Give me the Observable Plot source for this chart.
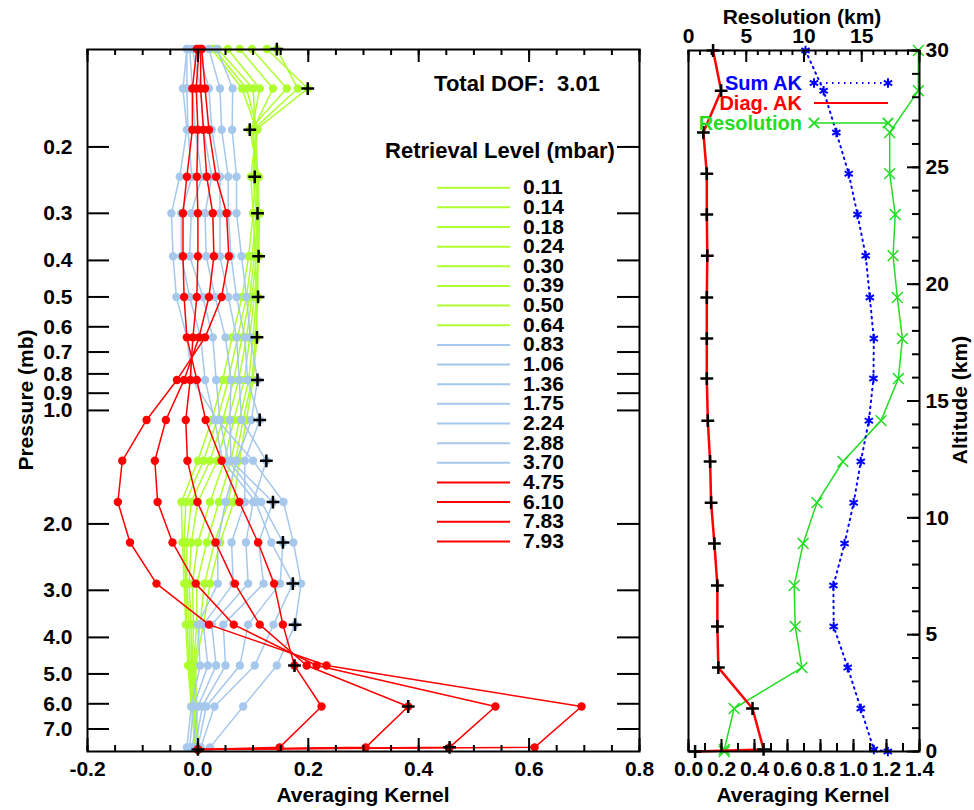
<!DOCTYPE html>
<html><head><meta charset="utf-8">
<script src="https://cdn.jsdelivr.net/npm/d3@7"></script>
<script src="https://cdn.jsdelivr.net/npm/@observablehq/plot@0.6"></script>
<style>
body{margin:0;background:#fff;}
#wrap{position:relative;width:974px;height:810px;overflow:hidden;font-family:"Liberation Sans",Arial,sans-serif;font-weight:bold;}
#wrap svg{position:absolute;top:0;}
</style></head><body><div id="wrap"></div>
<script>
// ---------------- DATA ----------------
const levels = [0.11, 0.14, 0.18, 0.24, 0.30, 0.39, 0.50, 0.64, 0.83, 1.06, 1.36, 1.75, 2.24, 2.88, 3.70, 4.75, 6.10, 7.83, 7.93];
const totalDOF = 3.01;

// averaging kernels (one array per retrieval level, values at each level above)
const k_0_11 = [0.143, 0.181, 0.100, 0.104, 0.100, 0.092, 0.080, 0.062, 0.045, 0.025, 0.000, -0.030, -0.028, -0.025, -0.022, -0.018, -0.012, -0.005, 0.000];
const k_0_14 = [0.125, 0.199, 0.105, 0.108, 0.106, 0.098, 0.088, 0.072, 0.055, 0.035, 0.010, -0.022, -0.025, -0.022, -0.020, -0.016, -0.010, -0.004, 0.000];
const k_0_18 = [0.098, 0.161, 0.094, 0.110, 0.110, 0.102, 0.094, 0.080, 0.065, 0.045, 0.022, -0.012, -0.020, -0.020, -0.016, -0.014, -0.008, -0.003, 0.000];
const k_0_24 = [0.076, 0.136, 0.100, 0.103, 0.112, 0.106, 0.098, 0.088, 0.074, 0.055, 0.035, 0.000, -0.012, -0.016, -0.012, -0.012, -0.006, -0.002, 0.000];
const k_0_30 = [0.054, 0.112, 0.098, 0.110, 0.108, 0.110, 0.102, 0.094, 0.084, 0.065, 0.048, 0.022, 0.000, -0.010, -0.008, -0.010, -0.005, -0.001, 0.000];
const k_0_39 = [0.036, 0.100, 0.104, 0.106, 0.112, 0.110, 0.106, 0.100, 0.092, 0.075, 0.060, 0.038, 0.016, -0.002, -0.002, -0.008, -0.004, 0.000, 0.000];
const k_0_50 = [0.030, 0.088, 0.108, 0.100, 0.106, 0.108, 0.109, 0.104, 0.098, 0.082, 0.068, 0.055, 0.030, 0.012, 0.004, -0.006, -0.003, 0.000, 0.000];
const k_0_64 = [0.025, 0.080, 0.106, 0.096, 0.100, 0.104, 0.106, 0.107, 0.100, 0.088, 0.075, 0.065, 0.040, 0.022, 0.010, -0.004, -0.002, 0.000, 0.000];
const k_0_83 = [0.035, 0.063, 0.062, 0.070, 0.070, 0.079, 0.088, 0.095, 0.108, 0.097, 0.070, 0.050, 0.036, 0.036, 0.000, 0.004, -0.012, -0.020, 0.000];
const k_1_06 = [0.020, 0.040, 0.043, 0.055, 0.055, 0.060, 0.070, 0.085, 0.090, 0.112, 0.085, 0.085, 0.061, 0.064, 0.010, 0.018, -0.008, -0.015, 0.000];
const k_1_36 = [0.000, 0.020, 0.025, 0.040, 0.040, 0.040, 0.055, 0.070, 0.075, 0.079, 0.124, 0.100, 0.087, 0.091, 0.025, 0.033, 0.000, -0.010, 0.000];
const k_1_75 = [-0.010, 0.005, 0.010, 0.025, 0.013, 0.015, 0.031, 0.050, 0.060, 0.058, 0.060, 0.136, 0.110, 0.119, 0.046, 0.050, 0.008, -0.005, 0.000];
const k_2_24 = [-0.015, -0.010, -0.005, 0.007, -0.012, -0.015, 0.009, 0.027, 0.033, 0.040, 0.055, 0.115, 0.154, 0.149, 0.091, 0.076, 0.015, 0.000, 0.000];
const k_2_88 = [-0.020, -0.020, -0.018, -0.011, -0.030, -0.030, -0.015, 0.005, 0.013, 0.030, 0.045, 0.105, 0.133, 0.172, 0.137, 0.103, 0.030, 0.005, 0.000];
const k_3_70 = [-0.020, -0.027, -0.020, -0.033, -0.048, -0.045, -0.039, -0.020, -0.010, 0.035, 0.100, 0.155, 0.173, 0.187, 0.176, 0.143, 0.082, 0.022, 0.000];
const k_4_75 = [-0.002, -0.010, -0.010, -0.020, -0.027, -0.027, -0.025, -0.020, -0.002, 0.014, 0.043, 0.075, 0.109, 0.138, 0.154, 0.175, 0.224, 0.148, 0.000];
const k_6_10 = [0.002, -0.003, 0.000, -0.002, 0.000, 0.000, -0.002, -0.009, -0.014, -0.022, -0.019, -0.001, 0.032, 0.067, 0.112, 0.197, 0.381, 0.304, 0.000];
const k_7_83 = [0.005, 0.005, 0.010, 0.016, 0.027, 0.029, 0.020, 0.002, -0.025, -0.058, -0.078, -0.073, -0.046, -0.004, 0.065, 0.215, 0.539, 0.456, 0.000];
const k_7_93 = [0.007, 0.013, 0.020, 0.033, 0.052, 0.056, 0.043, 0.013, -0.038, -0.093, -0.137, -0.145, -0.123, -0.075, 0.020, 0.233, 0.695, 0.610, 0.000];
const kernels = [k_0_11, k_0_14, k_0_18, k_0_24, k_0_30, k_0_39, k_0_50, k_0_64, k_0_83, k_1_06, k_1_36, k_1_75, k_2_24, k_2_88, k_3_70, k_4_75, k_6_10, k_7_83, k_7_93];
const kernelGroup = ["upper","upper","upper","upper","upper","upper","upper","upper","middle","middle","middle","middle","middle","middle","middle","lower","lower","lower","lower"];

// right panel
const altitude = [30.0, 28.28, 26.49, 24.73, 22.98, 21.22, 19.43, 17.67, 15.96, 14.16, 12.41, 10.65, 8.90, 7.10, 5.35, 3.59, 1.84, 0.09, 0.0];
const sumAK = [0.709, 0.819, 0.896, 0.971, 1.024, 1.074, 1.099, 1.123, 1.121, 1.093, 1.044, 1.001, 0.946, 0.878, 0.880, 0.965, 1.044, 1.123, 1.208];
const diagAK = [0.149, 0.198, 0.090, 0.111, 0.111, 0.114, 0.111, 0.111, 0.111, 0.117, 0.131, 0.137, 0.157, 0.175, 0.175, 0.181, 0.388, 0.455, 0.040];
const resolutionKm = [19.9, 19.9, 17.42, 17.42, 17.9, 17.71, 18.08, 18.52, 18.17, 16.67, 13.37, 11.12, 9.93, 9.15, 9.24, 9.82, 3.95, 3.10, 3.10];

// tick labels
const pressureTicks = [0.2, 0.3, 0.4, 0.5, 0.6, 0.7, 0.8, 0.9, 1.0, 2.0, 3.0, 4.0, 5.0, 6.0, 7.0];
const akTicksLeft = [-0.2, 0.0, 0.2, 0.4, 0.6, 0.8];
const akTicksRight = [0.0, 0.2, 0.4, 0.6, 0.8, 1.0, 1.2, 1.4];
const resTicks = [0, 5, 10, 15];
const altTicks = [0, 5, 10, 15, 20, 25, 30];
const legendNames = ["Sum AK", "Diag. AK", "Resolution"];

// ---------------- STYLE ----------------
const groupColor = {upper: "#adff2f", middle: "#a6c8ec", lower: "#ff0000"};
const FONT = '"Liberation Sans", Arial, sans-serif';
const svgStyle = `background:transparent;font-family:${FONT};font-size:21px;font-weight:bold;overflow:visible;`;
const wrap = document.getElementById("wrap");

// ---------------- LEFT PANEL ----------------
const L = {w: 640, ml: 87, mr: 1, mt: 49, mb: 59};
const LFW = L.w - L.ml - L.mr, LFH = 810 - L.mt - L.mb;
const kernelMarks = [];
kernels.forEach((k, j) => {
  const rows = k.map((v, i) => ({p: levels[i], ak: v}));
  const c = groupColor[kernelGroup[j]];
  kernelMarks.push(Plot.line(rows, {x: "ak", y: "p", stroke: c, strokeWidth: 1.5}));
  kernelMarks.push(Plot.dot(rows, {x: "ak", y: "p", fill: c, r: 4.2}));
});
const diagRows = kernels.map((k, j) => ({p: levels[j], ak: k[j]}));
const xMinorL = d3.range(-0.2, 0.8001, 0.05).map(d => +d.toFixed(2));

const leftPlot = Plot.plot({
  width: L.w, height: 810,
  marginLeft: L.ml, marginRight: L.mr, marginTop: L.mt, marginBottom: L.mb,
  style: svgStyle + "left:0px;",
  x: {domain: [-0.2, 0.8]},
  y: {type: "log", domain: [0.1103, 8.03], reverse: true},
  marks: [
    ...kernelMarks,
    Plot.dot(diagRows, {x: "ak", y: "p", symbol: "plus", stroke: "black", strokeWidth: 2.5, r: 4.2}),
    Plot.ruleY(pressureTicks, {insetRight: LFW - 22, stroke: "black", strokeWidth: 2}),
    Plot.ruleY(pressureTicks, {insetLeft: LFW - 22, stroke: "black", strokeWidth: 2}),
    Plot.ruleX(xMinorL, {insetTop: LFH - 6, stroke: "black", strokeWidth: 2}),
    Plot.ruleX(xMinorL, {insetBottom: LFH - 6, stroke: "black", strokeWidth: 2}),
    Plot.ruleX(akTicksLeft, {insetTop: LFH - 13, stroke: "black", strokeWidth: 2}),
    Plot.ruleX(akTicksLeft, {insetBottom: LFH - 13, stroke: "black", strokeWidth: 2}),
    Plot.frame({stroke: "black", strokeWidth: 2}),
    Plot.axisX(akTicksLeft, {anchor: "bottom", tickSize: 0, tickPadding: 10, tickFormat: d => d.toFixed(1), label: null, fill: "black"}),
    Plot.axisY(pressureTicks, {anchor: "left", tickSize: 0, tickPadding: 15, tickFormat: d => d.toFixed(1), label: null, fill: "black"})
  ]
});
wrap.appendChild(leftPlot);

// ---------------- RIGHT PANEL ----------------
const R = {w: 334, ml: 48, mr: 55, mt: 50, mb: 59};
const RFW = R.w - R.ml - R.mr, RFH = 810 - R.mt - R.mb;
const resToAK = r => r * 1.4 / 20;
const rightRows = altitude.map((a, i) => ({alt: a, sum: sumAK[i], diag: diagAK[i], res: resToAK(resolutionKm[i])}));
const xMinorR = d3.range(0, 1.4001, 0.1).map(d => +d.toFixed(1));
const topMinor = d3.range(0, 20.001, 1).map(resToAK);
const topMajor = [0, 5, 10, 15, 20].map(resToAK);
const altMinor = d3.range(0, 30.001, 1);

const rightPlot = Plot.plot({
  width: R.w, height: 810,
  marginLeft: R.ml, marginRight: R.mr, marginTop: R.mt, marginBottom: R.mb,
  style: svgStyle + "left:640px;",
  x: {domain: [0, 1.4]},
  y: {domain: [0, 30]},
  marks: [
    Plot.line(rightRows, {x: "res", y: "alt", stroke: "#22dd22", strokeWidth: 1.5}),
    Plot.dot(rightRows, {x: "res", y: "alt", symbol: "times", stroke: "#22dd22", strokeWidth: 1.5, r: 5}),
    Plot.line(rightRows, {x: "sum", y: "alt", stroke: "#0000ff", strokeWidth: 2, strokeDasharray: "1.5,4.5"}),
    Plot.dot(rightRows, {x: "sum", y: "alt", symbol: "asterisk", stroke: "#0000ff", strokeWidth: 2, r: 4.5}),
    Plot.line(rightRows, {x: "diag", y: "alt", stroke: "#ff0000", strokeWidth: 2.5}),
    Plot.dot(rightRows, {x: "diag", y: "alt", symbol: "plus", stroke: "black", strokeWidth: 2.5, r: 4.2}),
    Plot.ruleX(xMinorR, {insetTop: RFH - 8, stroke: "black", strokeWidth: 2}),
    Plot.ruleX(akTicksRight, {insetTop: RFH - 12, stroke: "black", strokeWidth: 2}),
    Plot.ruleX(topMinor, {insetBottom: RFH - 5, stroke: "black", strokeWidth: 2}),
    Plot.ruleX(topMajor, {insetBottom: RFH - 12, stroke: "black", strokeWidth: 2}),
    Plot.ruleY(altMinor, {insetLeft: RFW - 7, stroke: "black", strokeWidth: 2}),
    Plot.ruleY(altTicks, {insetLeft: RFW - 12, stroke: "black", strokeWidth: 2}),
    Plot.frame({stroke: "black", strokeWidth: 2}),
    Plot.axisX(akTicksRight, {anchor: "bottom", tickSize: 0, tickPadding: 10, tickFormat: d => d.toFixed(1), label: null, fill: "black"}),
    Plot.axisX(resTicks.map(resToAK), {anchor: "top", tickSize: 0, tickPadding: 8, tickFormat: d => String(Math.round(d * 20 / 1.4)), label: null, fill: "black"}),
    Plot.axisY(altTicks, {anchor: "right", tickSize: 0, tickPadding: 6, tickFormat: d => String(d), label: null, fill: "black"})
  ]
});
wrap.appendChild(rightPlot);

// ---------------- OVERLAY TEXT / LEGENDS ----------------
const ns = "http://www.w3.org/2000/svg";
const ov = document.createElementNS(ns, "svg");
ov.setAttribute("width", 974); ov.setAttribute("height", 810);
ov.setAttribute("style", `left:0;top:0;pointer-events:none;font-family:${FONT};font-weight:bold;font-size:21px;`);
function txt(s, x, y, opts = {}) {
  const t = document.createElementNS(ns, "text");
  t.textContent = s;
  t.setAttribute("x", x); t.setAttribute("y", y);
  t.setAttribute("dominant-baseline", "central");
  t.setAttribute("text-anchor", opts.anchor || "middle");
  t.setAttribute("fill", opts.fill || "black");
  t.setAttribute("style", "white-space:pre" + (opts.size ? `;font-size:${opts.size}px` : ""));
  if (opts.rotate) t.setAttribute("transform", `rotate(${opts.rotate},${x},${y})`);
  ov.appendChild(t);
}
function seg(x1, y1, x2, y2, stroke, w, dash) {
  const l = document.createElementNS(ns, "line");
  l.setAttribute("x1", x1); l.setAttribute("y1", y1); l.setAttribute("x2", x2); l.setAttribute("y2", y2);
  l.setAttribute("stroke", stroke); l.setAttribute("stroke-width", w);
  if (dash) l.setAttribute("stroke-dasharray", dash);
  ov.appendChild(l);
}
function sym(type, x, y, color, size) {
  const p = document.createElementNS(ns, "path");
  const s = type === "asterisk" ? d3.symbolAsterisk : d3.symbolTimes;
  p.setAttribute("d", d3.symbol(s, size)());
  p.setAttribute("transform", `translate(${x},${y})`);
  p.setAttribute("stroke", color); p.setAttribute("stroke-width", 2); p.setAttribute("fill", "none");
  ov.appendChild(p);
}
// axis titles
txt("Pressure (mb)", 25, 400, {rotate: -90});
txt("Averaging Kernel", 363, 794);
txt("Averaging Kernel", 803, 794);
txt("Resolution (km)", 802, 16);
txt("Altitude (km)", 959, 400, {rotate: -90});
// left legend
txt(`Total DOF:  ${totalDOF.toFixed(2)}`, 517, 83, {size: 22});
txt("Retrieval Level (mbar)", 500, 150, {size: 22});
levels.forEach((p, i) => {
  const y = 187.7 + 19.65 * i;
  seg(437, y, 510, y, groupColor[kernelGroup[i]], 2);
  txt(p.toFixed(2), 523, y - 1, {anchor: "start", size: 21});
});
// right legend
const legColors = ["#0000ff", "#ff0000", "#22dd22"];
legendNames.forEach((n, i) => {
  const y = 83 + 20 * i;
  txt(n, 802, y, {anchor: "end", fill: legColors[i], size: 20});
});
seg(814, 83, 888, 83, "#0000ff", 2, "1.5,4.5");
sym("asterisk", 814, 83, "#0000ff", 64); sym("asterisk", 888, 83, "#0000ff", 64);
seg(814, 103, 888, 103, "#ff0000", 2);
seg(814, 123, 888, 123, "#22dd22", 1.5);
sym("times", 814, 123, "#22dd22", 70); sym("times", 888, 123, "#22dd22", 70);
wrap.appendChild(ov);
</script></body></html>
